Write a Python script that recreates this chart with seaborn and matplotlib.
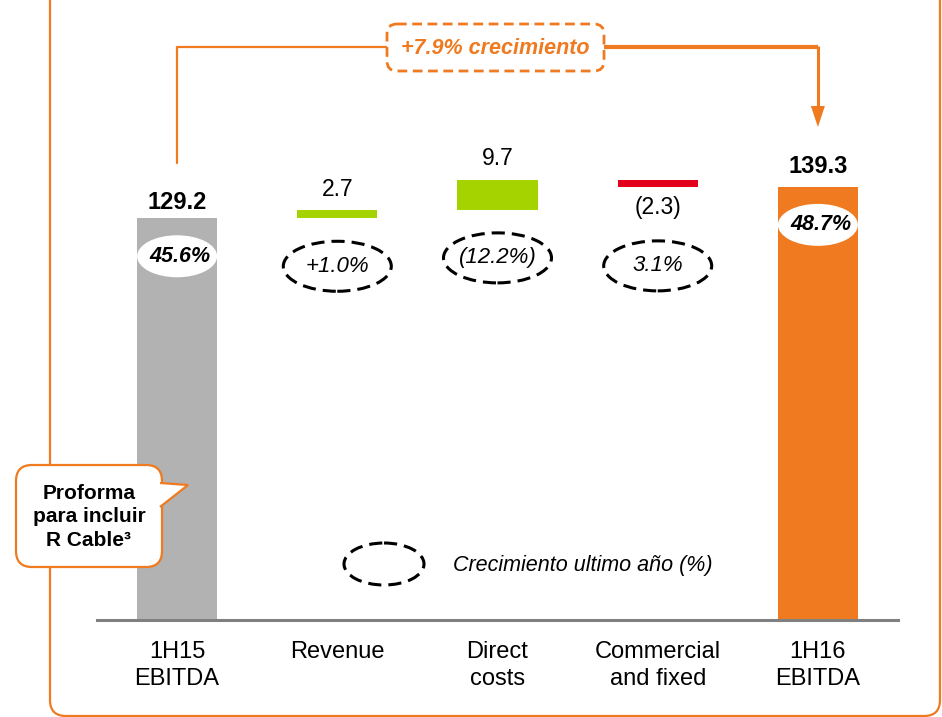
import matplotlib
matplotlib.use("Agg")
import matplotlib.pyplot as plt
import matplotlib.transforms as mtransforms
from matplotlib.patches import Ellipse, FancyBboxPatch, Polygon
import seaborn as sns

# data
categories = ["1H15\nEBITDA", "Revenue", "Direct\ncosts", "Commercial\nand fixed", "1H16\nEBITDA"]
steps = [129.2, 2.7, 9.7, -2.3, 139.3]
is_total = [True, False, False, False, True]
value_labels = ["129.2", "2.7", "9.7", "(2.3)", "139.3"]
growth_labels = ["45.6%", "+1.0%", "(12.2%)", "3.1%", "48.7%"]
total_growth = "+7.9% crecimiento"
legend_text = "Crecimiento ultimo año (%)"
note_text = "Proforma\npara incluir\nR Cable³"

bar_colors = ["#b2b2b2", "#a5d300", "#a5d300", "#e3001b", "#f07a1f"]
ORANGE = "#f07a1f"

# waterfall bottoms / heights
bottoms, heights = [], []
level = 0.0
for s, tot in zip(steps, is_total):
    if tot:
        bottoms.append(0.0)
        heights.append(s)
        level = s
    else:
        bottoms.append(min(level, level + s))
        heights.append(abs(s))
        level += s

sns.set_theme(style="white")
plt.rcParams["font.family"] = ["Liberation Sans", "DejaVu Sans"]
plt.rcParams["text.color"] = "black"

W, H = 942, 717
AX_L, AX_R, AX_B = 97, 898, 620
YMAX = 199.4
fig = plt.figure(figsize=(W / 100, H / 100), dpi=100)
ax = fig.add_axes([AX_L / W, (H - AX_B) / H, (AX_R - AX_L) / W, AX_B / H])
ax.set_facecolor("none")

sns.barplot(x=categories, y=heights, hue=categories, palette=bar_colors,
            legend=False, width=0.5, saturation=1, ax=ax)
for patch, b in zip(ax.patches, bottoms):
    patch.set_y(b)
    patch.set_edgecolor("none")

ax.set_xlim(-0.5, 4.5)
ax.set_ylim(0, YMAX)
ax.set_yticks([])
ax.set_ylabel("")
for side in ["left", "right", "top"]:
    ax.spines[side].set_visible(False)
ax.spines["bottom"].set_color("#808080")
ax.spines["bottom"].set_linewidth(2.2)
ax.tick_params(axis="x", length=0, pad=15, labelsize=17, labelcolor="black")
for lab in ax.get_xticklabels():
    lab.set_linespacing(1.32)

# pixel helpers
upp = YMAX / AX_B                 # data units per pixel (y)
xpp = 5 / (AX_R - AX_L)           # data units per pixel (x)
def dy(py):
    return (AX_B - py) * upp
def dx(px):
    return (px - AX_L) * xpp - 0.5
pxt = mtransforms.Affine2D().scale(1 / W, -1 / H).translate(0, 1) + fig.transFigure

# value labels, growth ellipses
for i in range(len(categories)):
    top = bottoms[i] + heights[i]
    if steps[i] >= 0:
        off = 11.5 if i == 0 else 15
        ax.annotate(value_labels[i], (i, top), xytext=(0, off), textcoords="offset points",
                    ha="center", va="center", fontsize=17 if is_total[i] else 16.5,
                    fontweight="bold" if is_total[i] else "normal")
    else:
        ax.annotate(value_labels[i], (i, bottoms[i]), xytext=(0, -15), textcoords="offset points",
                    ha="center", va="center", fontsize=16.5)
    if is_total[i]:
        cy = top - 38 * upp
        ax.add_patch(Ellipse((i, cy), 80 * xpp, 42 * upp, fc="white", ec="none", zorder=3))
        ax.text(i + 0.02, cy, growth_labels[i], ha="center", va="center", fontsize=15.5,
                fontweight="bold", fontstyle="italic", zorder=4)
    else:
        if steps[i] >= 0:
            cy = bottoms[i] - 48 * upp
        else:
            cy = bottoms[i] - 79 * upp
        ax.add_patch(Ellipse((i, cy), 108 * xpp, 50 * upp, fc="none", ec="black",
                             lw=2.2, ls=(0, (4.3, 2.3)), zorder=3))
        ax.text(i, cy, growth_labels[i], ha="center", va="center", fontsize=16,
                fontstyle="italic", zorder=4)

# growth bracket
ax.plot([0, 0, dx(387)], [dy(163), dy(47), dy(47)], color=ORANGE, lw=1.6, clip_on=False)
ax.plot([dx(604), 4], [dy(47), dy(47)], color=ORANGE, lw=3, clip_on=False,
        solid_capstyle="butt")
ax.plot([4, 4], [dy(46), dy(108)], color=ORANGE, lw=2.2, clip_on=False,
        solid_capstyle="butt")
ax.add_patch(Polygon([(4 - 7 * xpp, dy(106)), (4 + 7 * xpp, dy(106)), (4, dy(127))],
                     closed=True, fc=ORANGE, ec="none", clip_on=False))

# outer frame
fig.add_artist(FancyBboxPatch((50, -40), 890, 756, boxstyle="round,pad=0,rounding_size=16",
                              fc="none", ec=ORANGE, lw=1.6, transform=pxt))

# growth box
fig.add_artist(FancyBboxPatch((387, 24), 217, 47, boxstyle="round,pad=0,rounding_size=10",
                              fc="white", ec=ORANGE, lw=2, ls=(0, (3.5, 2)), transform=pxt))
fig.text(495.5, 48, total_growth, transform=pxt, ha="center", va="center", fontsize=15.5,
         fontweight="bold", fontstyle="italic", color=ORANGE)

# callout note
fig.add_artist(FancyBboxPatch((16, 465), 146, 102, boxstyle="round,pad=0,rounding_size=16",
                              fc="white", ec=ORANGE, lw=1.6, transform=pxt))
fig.add_artist(Polygon([(160, 483), (188, 485), (160, 507)], closed=False,
                       fc="white", ec=ORANGE, lw=1.6, transform=pxt))
fig.text(89, 517, note_text, transform=pxt, ha="center", va="center", fontsize=15,
         fontweight="bold", linespacing=1.32)

# legend
fig.add_artist(Ellipse((384, 564), 80, 42, fc="none", ec="black", lw=2.2,
                       ls=(0, (4.3, 2.3)), transform=pxt))
fig.text(453, 565, legend_text, transform=pxt, ha="left", va="center", fontsize=15.5,
         fontstyle="italic")

fig.savefig("out.png", dpi=100)
